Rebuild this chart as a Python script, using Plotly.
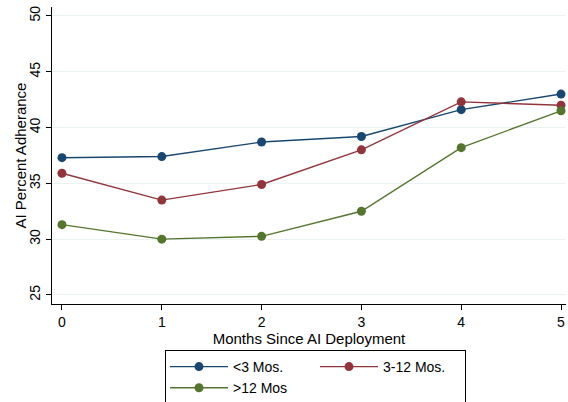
import plotly.graph_objects as go

months = [0, 1, 2, 3, 4, 5]
lt3 = [37.3, 37.4, 38.7, 39.2, 41.6, 43.0]
mid = [35.9, 33.5, 34.9, 38.0, 42.3, 42.0]
gt12 = [31.3, 30.0, 30.25, 32.5, 38.2, 41.5]

names = ["<3 Mos.", "3-12 Mos.", ">12 Mos"]
colors = ["#1a476f", "#90353b", "#55752f"]
groups = ["a", "b", "a"]

fig = go.Figure()
for vals, name, col, grp in zip([lt3, mid, gt12], names, colors, groups):
    fig.add_trace(go.Scatter(
        x=months, y=vals, name=name, mode="lines+markers", legendgroup=grp,
        line=dict(color=col, width=1.4),
        marker=dict(color=col, size=9),
    ))

fig.update_layout(
    width=568, height=402,
    margin=dict(l=52, r=2, t=7, b=98, autoexpand=False),
    paper_bgcolor="white", plot_bgcolor="white",
    font=dict(family="Liberation Sans, Arial", size=14, color="black"),
    legend=dict(
        orientation="h", traceorder="grouped",
        xref="container", yref="container",
        x=165 / 568, xanchor="left", y=1 - 350 / 402, yanchor="top",
        bordercolor="black", borderwidth=1,
        itemwidth=58,
        entrywidth=77, entrywidthmode="pixels",
        tracegroupgap=20,
        font=dict(size=14),
    ),
)
fig.update_xaxes(
    range=[-0.1, 5.05], tickvals=months, showgrid=False, zeroline=False,
    showline=True, linecolor="black", linewidth=1, automargin=False,
    ticks="outside", ticklen=5, tickcolor="black",
    title=dict(text="Months Since AI Deployment", standoff=1, font=dict(size=15)),
)
fig.update_yaxes(
    range=[24.19, 50.8], tickvals=[25, 30, 35, 40, 45, 50], tickangle=-90,
    showgrid=True, gridcolor="#eaf2f3", gridwidth=1, zeroline=False,
    showline=True, linecolor="black", linewidth=1, automargin=False,
    ticks="outside", ticklen=5, tickcolor="black",
)

# y title placed by hand, a little closer to the tick labels than plotly puts it
fig.add_annotation(
    text="AI Percent Adherance", textangle=-90, showarrow=False,
    xref="paper", yref="paper", x=(20 - 52) / 514, y=0.5,
    xanchor="center", yanchor="middle", font=dict(size=15),
)

# the page body has a default 8px margin; drop it so the figure sits at 0,0
fig.write_html("out.html", config={"displayModeBar": False},
               post_script="document.body.style.margin='0';")
